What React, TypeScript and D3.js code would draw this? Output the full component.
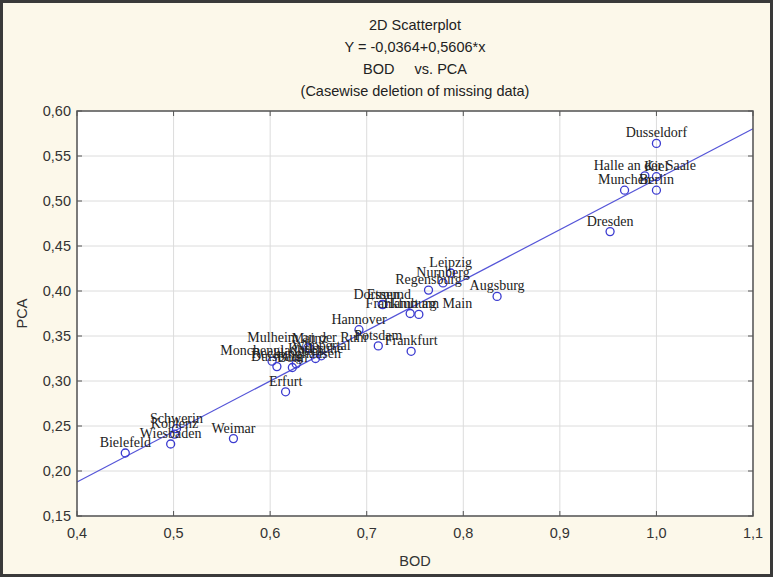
import React, { useEffect, useRef } from "react"
import * as d3 from "d3"

// values
const cities = [
  "Dusseldorf", "Halle an der Saale", "Kiel", "Munchen", "Berlin", "Dresden",
  "Augsburg", "Leipzig", "Nurnberg", "Regensburg", "Dortmund", "Essen",
  "Hamburg", "Frankfurt am Main", "Hannover", "Potsdam", "Frankfurt",
  "Mulheim an der Ruhr", "Mainz", "Monchengladbach", "Duisburg", "Bonn",
  "Recklinghausen", "Karlsruhe", "Wuppertal", "Erfurt", "Schwerin", "Koblenz",
  "Wiesbaden", "Weimar", "Bielefeld",
]
const bod = [
  1.0, 0.988, 1.0, 0.967, 1.0, 0.952,
  0.835, 0.787, 0.779, 0.764, 0.716, 0.717,
  0.745, 0.754, 0.692, 0.712, 0.746,
  0.639, 0.641, 0.602, 0.607, 0.623,
  0.627, 0.647, 0.653, 0.616, 0.503, 0.501,
  0.497, 0.562, 0.45,
]
const pca = [
  0.564, 0.528, 0.527, 0.512, 0.512, 0.466,
  0.394, 0.42, 0.409, 0.401, 0.385, 0.385,
  0.375, 0.374, 0.357, 0.339, 0.333,
  0.337, 0.336, 0.322, 0.316, 0.315,
  0.319, 0.325, 0.328, 0.288, 0.247, 0.241,
  0.23, 0.236, 0.22,
]
const xTicks = [0.4, 0.5, 0.6, 0.7, 0.8, 0.9, 1.0, 1.1]
const yTicks = [0.15, 0.2, 0.25, 0.3, 0.35, 0.4, 0.45, 0.5, 0.55, 0.6]
const intercept = -0.0364
const slope = 0.5606
const titleLines = [
  "2D Scatterplot",
  "Y = -0,0364+0,5606*x",
  "BOD     vs. PCA",
  "(Casewise deletion of missing data)",
]

const W = 773
const H = 577

const drawChart = (wrapper: SVGSVGElement) => {
  const svg = d3.select(wrapper)
  svg.selectAll("*").remove()

  const left = 77, right = 753, top = 111, bottom = 516
  const x = d3.scaleLinear().domain([0.4, 1.1]).range([left, right])
  const y = d3.scaleLinear().domain([0.15, 0.6]).range([bottom, top])
  const fmt = (v: number, d: number) => v.toFixed(d).replace(".", ",")

  // background and outer frame
  svg.append("rect").attr("x", 0).attr("y", 0).attr("width", W).attr("height", H).attr("fill", "#fcf8ea")
  svg.append("rect").attr("x", 1.5).attr("y", 1.5).attr("width", W - 3).attr("height", H - 3)
    .attr("fill", "none").attr("stroke", "#3a3a3a").attr("stroke-width", 3)

  // title
  svg.selectAll(".title").data(titleLines).enter().append("text")
    .attr("x", (left + right) / 2).attr("y", (d, i) => 30 + i * 22)
    .attr("text-anchor", "middle").attr("font-family", "Liberation Sans, Arial, sans-serif")
    .attr("font-size", 14.5).attr("fill", "#222").style("white-space", "pre")
    .text(d => d)

  // plot area
  svg.append("rect").attr("x", left).attr("y", top).attr("width", right - left).attr("height", bottom - top).attr("fill", "#fff")

  const grid = svg.append("g").attr("stroke", "#dcdcdc").attr("stroke-width", 1)
  grid.selectAll(".vg").data(xTicks).enter().append("line")
    .attr("x1", d => x(d)).attr("x2", d => x(d)).attr("y1", top).attr("y2", bottom)
  grid.selectAll(".hg").data(yTicks).enter().append("line")
    .attr("x1", left).attr("x2", right).attr("y1", d => y(d)).attr("y2", d => y(d))

  // ticks, inside the frame
  const ticks = svg.append("g").attr("stroke", "#555").attr("stroke-width", 1)
  xTicks.forEach(t => {
    ticks.append("line").attr("x1", x(t)).attr("x2", x(t)).attr("y1", bottom).attr("y2", bottom - 5)
    ticks.append("line").attr("x1", x(t)).attr("x2", x(t)).attr("y1", top).attr("y2", top + 5)
  })
  yTicks.forEach(t => {
    ticks.append("line").attr("x1", left).attr("x2", left + 5).attr("y1", y(t)).attr("y2", y(t))
    ticks.append("line").attr("x1", right).attr("x2", right - 5).attr("y1", y(t)).attr("y2", y(t))
  })

  // regression line
  const reg = d3.line<number>().x(d => x(d)).y(d => y(intercept + slope * d))
  svg.append("path").datum([0.4, 1.1]).attr("d", reg)
    .attr("fill", "none").attr("stroke", "#5555d8").attr("stroke-width", 1.2)

  // points
  const pts = cities.map((c, i) => ({ name: c, bod: bod[i], pca: pca[i] }))
  svg.selectAll(".pt").data(pts).enter().append("circle")
    .attr("cx", d => x(d.bod)).attr("cy", d => y(d.pca)).attr("r", 4)
    .attr("fill", "none").attr("stroke", "#3b3bd0").attr("stroke-width", 1.3)

  svg.selectAll(".lbl").data(pts).enter().append("text")
    .attr("x", d => x(d.bod)).attr("y", d => y(d.pca) - 6)
    .attr("text-anchor", "middle").attr("font-family", "Liberation Serif, Times New Roman, serif")
    .attr("font-size", 14).attr("fill", "#222")
    .text(d => d.name)

  // frame of plot
  svg.append("rect").attr("x", left).attr("y", top).attr("width", right - left).attr("height", bottom - top)
    .attr("fill", "none").attr("stroke", "#555").attr("stroke-width", 1.5)

  // tick labels
  const font = "Liberation Sans, Arial, sans-serif"
  svg.selectAll(".xl").data(xTicks).enter().append("text")
    .attr("x", d => x(d)).attr("y", bottom + 22).attr("text-anchor", "middle")
    .attr("font-family", font).attr("font-size", 14.5).attr("fill", "#333")
    .text(d => fmt(d, 1))
  svg.selectAll(".yl").data(yTicks).enter().append("text")
    .attr("x", left - 6).attr("y", d => y(d) + 5).attr("text-anchor", "end")
    .attr("font-family", font).attr("font-size", 14.5).attr("fill", "#333")
    .text(d => fmt(d, 2))

  // axis titles
  svg.append("text").attr("x", (left + right) / 2).attr("y", 566).attr("text-anchor", "middle")
    .attr("font-family", font).attr("font-size", 14.5).attr("fill", "#333").text("BOD")
  svg.append("text").attr("transform", `translate(27,${(top + bottom) / 2}) rotate(-90)`)
    .attr("text-anchor", "middle").attr("font-family", font).attr("font-size", 14.5)
    .attr("fill", "#333").text("PCA")
}

export default function App() {
  const ref = useRef<SVGSVGElement>(null)
  useEffect(() => {
    if (ref.current) drawChart(ref.current)
  }, [])

  return (
    <svg ref={ref} width={W} height={H} style={{ position: "absolute", left: 0, top: 0 }}></svg>
  )
}
